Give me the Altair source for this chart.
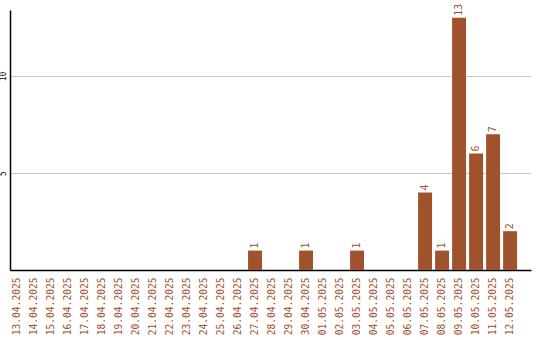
import altair as alt
import pandas as pd

# Daily counts, 13.04.2025 – 12.05.2025
dates = [
    "13.04.2025", "14.04.2025", "15.04.2025", "16.04.2025", "17.04.2025",
    "18.04.2025", "19.04.2025", "20.04.2025", "21.04.2025", "22.04.2025",
    "23.04.2025", "24.04.2025", "25.04.2025", "26.04.2025", "27.04.2025",
    "28.04.2025", "29.04.2025", "30.04.2025", "01.05.2025", "02.05.2025",
    "03.05.2025", "04.05.2025", "05.05.2025", "06.05.2025", "07.05.2025",
    "08.05.2025", "09.05.2025", "10.05.2025", "11.05.2025", "12.05.2025",
]
counts = [0, 0, 0, 0, 0, 0, 0, 0, 0, 0,
          0, 0, 0, 0, 1, 0, 0, 1, 0, 0,
          1, 0, 0, 0, 4, 1, 13, 6, 7, 2]

df = pd.DataFrame({"date": dates, "count": counts})

BROWN = "#a0522d"
MONO = "DejaVu Sans Mono"

x = alt.X(
    "date:N",
    sort=dates,
    scale=alt.Scale(paddingInner=0.18, paddingOuter=0.41, align=0),
    axis=alt.Axis(
        title=None,
        labelAngle=270,
        labelAlign="right",
        labelBaseline="middle",
        labelPadding=7,
        labelFont=MONO,
        labelFontSize=9.6,
        labelColor=BROWN,
        ticks=False,
        domainColor="black",
        domainWidth=1.5,
        grid=False,
    ),
)

y = alt.Y(
    "count:Q",
    scale=alt.Scale(domain=[0, 13.4], nice=False),
    axis=alt.Axis(
        title=None,
        values=[5, 10],
        labelAngle=270,
        labelAlign="center",
        labelBaseline="bottom",
        labelPadding=3,
        labelFont=MONO,
        labelFontSize=8,
        labelColor="black",
        ticks=False,
        domainColor="black",
        domainWidth=1.5,
        grid=True,
        gridColor="#c8c8c8",
        gridWidth=1,
    ),
)

base = alt.Chart(df).encode(x=x, y=y)

bars = base.mark_bar(color=BROWN, opacity=1)

labels = base.transform_filter("datum.count > 0").mark_text(
    angle=270,
    align="left",
    baseline="middle",
    dx=2,
    font=MONO,
    fontSize=10,
    color=BROWN,
).encode(text="count:Q")

chart = (
    (bars + labels)
    .properties(
        width=521,
        height=260,
        padding={"left": 10, "top": 10, "right": 9, "bottom": 70},
        autosize="none",
        view=alt.ViewBackground(stroke="transparent", strokeWidth=0),
    )
    .configure_view(stroke="transparent", strokeWidth=0)
    .configure(background="white")
)

chart.save("out.html", embed_options={"renderer": "svg", "actions": False})
